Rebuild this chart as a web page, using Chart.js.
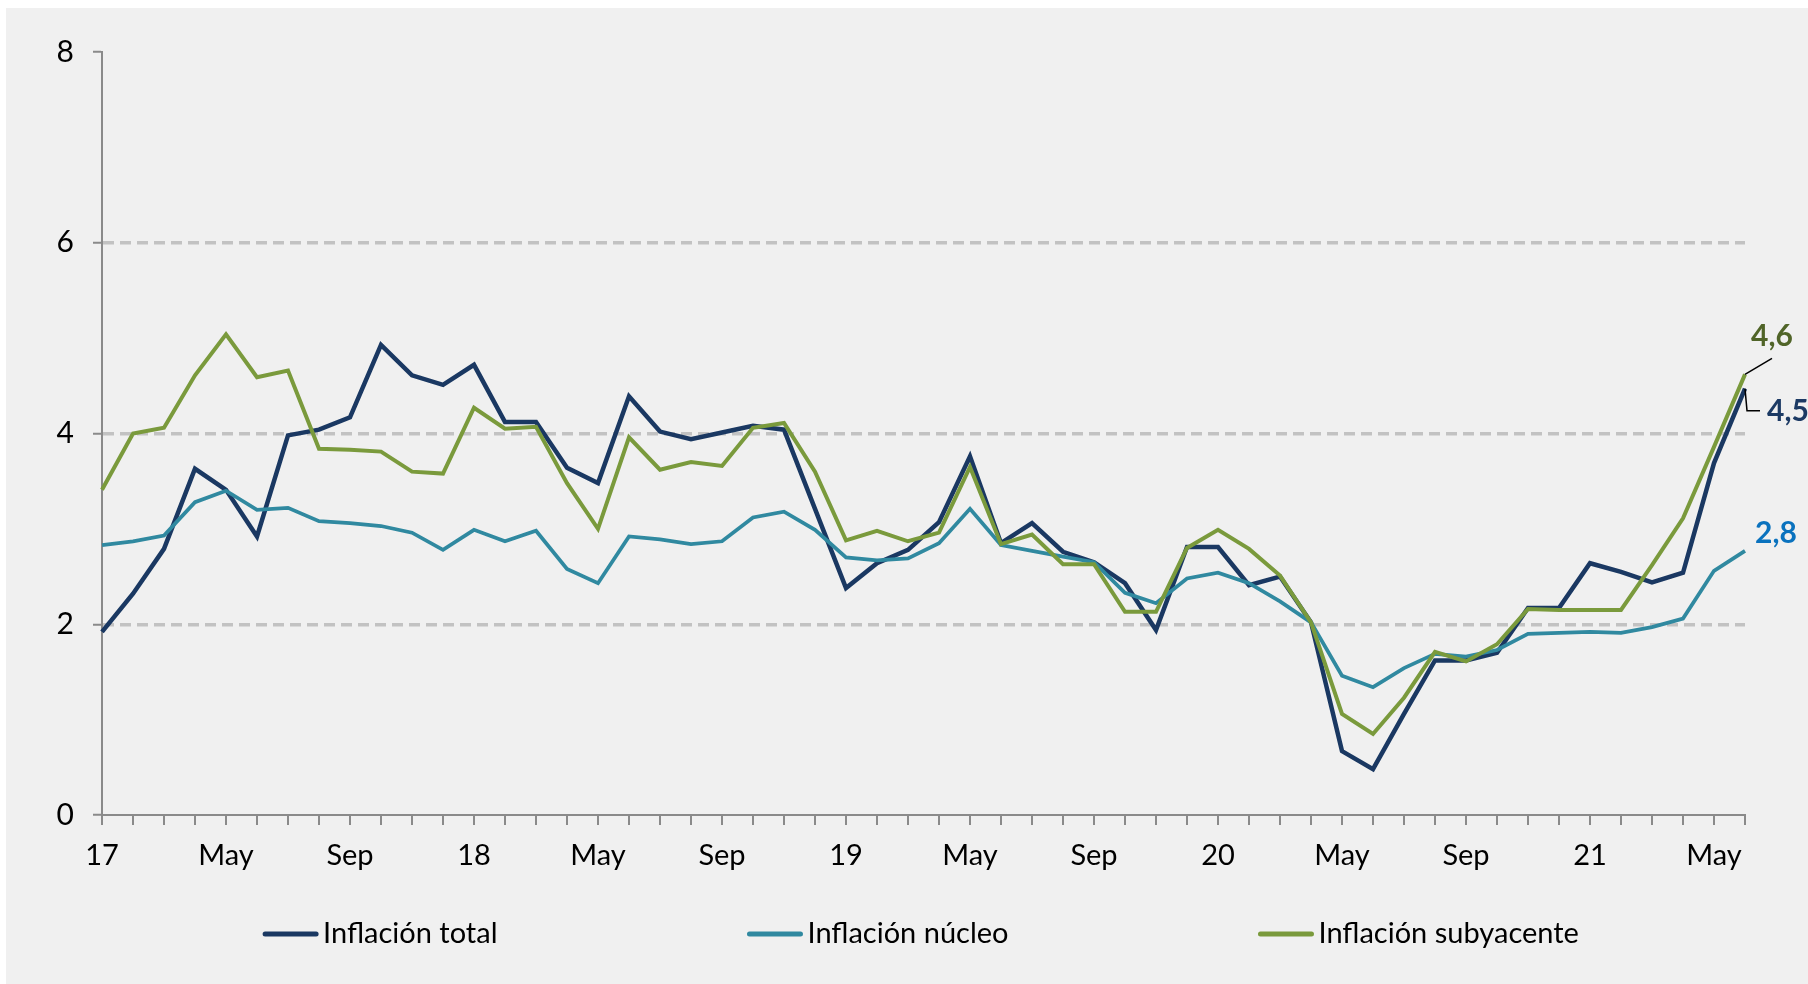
<!DOCTYPE html>
<html lang="es">
<head>
<meta charset="utf-8">
<title>Inflación total, núcleo y subyacente</title>
<script src="https://cdn.jsdelivr.net/npm/chart.js@4.4.1/dist/chart.umd.min.js"></script>
<style>
    html, body { margin: 0; padding: 0; background: #ffffff; }
    #wrap { width: 1808px; height: 984px; }
</style>
</head>
<body>
<div id="wrap"><canvas id="inflacion-chart" width="1808" height="984"></canvas></div>
<script>
// Monthly series, Jan 2017 - Jun 2021 (% a/a).
var years = ['17', '18', '19', '20', '21'];
var monthNames = ['Ene', 'Feb', 'Mar', 'Abr', 'May', 'Jun', 'Jul', 'Ago', 'Sep', 'Oct', 'Nov', 'Dic'];
var yTicks = [0, 2, 4, 6, 8];

var inflacionTotal = [
    1.92, 2.32, 2.79, 3.63, 3.41, 2.92, 3.98, 4.04, 4.17, 4.93, 4.61, 4.51,
    4.72, 4.12, 4.12, 3.64, 3.48, 4.39, 4.02, 3.94, 4.01, 4.08, 4.04, 3.21,
    2.38, 2.64, 2.78, 3.07, 3.76, 2.85, 3.06, 2.76, 2.65, 2.43, 1.94, 2.81,
    2.81, 2.41, 2.50, 2.02, 0.67, 0.48, 1.06, 1.62, 1.62, 1.70, 2.17, 2.17,
    2.64, 2.55, 2.44, 2.54, 3.69, 4.47
];
var inflacionNucleo = [
    2.83, 2.87, 2.93, 3.28, 3.40, 3.20, 3.22, 3.08, 3.06, 3.03, 2.96, 2.78,
    2.99, 2.87, 2.98, 2.58, 2.43, 2.92, 2.89, 2.84, 2.87, 3.12, 3.18, 2.99,
    2.70, 2.67, 2.69, 2.85, 3.21, 2.83, 2.77, 2.71, 2.65, 2.33, 2.22, 2.48,
    2.54, 2.43, 2.24, 2.02, 1.46, 1.34, 1.54, 1.69, 1.66, 1.73, 1.90, 1.91,
    1.92, 1.91, 1.97, 2.06, 2.56, 2.77
];
var inflacionSubyacente = [
    3.41, 4.00, 4.06, 4.61, 5.04, 4.59, 4.66, 3.84, 3.83, 3.81, 3.60, 3.58,
    4.27, 4.05, 4.07, 3.48, 3.00, 3.96, 3.62, 3.70, 3.66, 4.06, 4.11, 3.60,
    2.88, 2.98, 2.87, 2.96, 3.65, 2.84, 2.94, 2.63, 2.63, 2.13, 2.13, 2.80,
    2.99, 2.79, 2.51, 2.02, 1.06, 0.85, 1.23, 1.71, 1.61, 1.79, 2.16, 2.15,
    2.15, 2.15, 2.62, 3.11, 3.86, 4.62
];

// One category per month, "Ene 17" ... "Jun 21".
var categories = [];
years.forEach(function(y) {
    monthNames.forEach(function(m) {
        if (categories.length < inflacionTotal.length) {
            categories.push(m + ' ' + y);
        }
    });
});

var navy = '#1a3862';
var teal = '#3089a0';
var olive = '#7a9a3c';
var axisColor = '#8a8a8a';
var gridColor = '#c2c2c2';
var fontFamily = 'Lato, "Open Sans", sans-serif';

Chart.defaults.font.family = fontFamily;
Chart.defaults.color = '#000';

// Panel background with the thin white strip top/left.
var panelBackground = {
    id: 'panelBackground',
    beforeDraw: function(chart) {
        var ctx = chart.ctx;
        ctx.save();
        ctx.fillStyle = '#ffffff';
        ctx.fillRect(0, 0, chart.width, chart.height);
        ctx.fillStyle = '#f0f0f0';
        ctx.fillRect(6, 8, chart.width - 6, chart.height - 8);
        ctx.restore();
    }
};

// Value callouts next to the last point of each series.
var endLabelStyle = [
    { color: '#1c3a64', dx: 22, dy: 32, leader: [[2, 22], [15, 22]] },
    { color: '#0a72be', dx: 10, dy: -8, leader: null },
    { color: '#506428', dx: 6, dy: -28, leader: [[27, -16]] }
];
var endLabels = {
    id: 'endLabels',
    afterDatasetsDraw: function(chart) {
        var ctx = chart.ctx;
        ctx.save();
        chart.data.datasets.forEach(function(ds, i) {
            var meta = chart.getDatasetMeta(i);
            var last = meta.data.length - 1;
            var pt = meta.data[last];
            var st = endLabelStyle[i];
            if (st.leader) {
                ctx.beginPath();
                ctx.strokeStyle = '#000';
                ctx.lineWidth = 1.5;
                ctx.moveTo(pt.x, pt.y);
                st.leader.forEach(function(p) { ctx.lineTo(pt.x + p[0], pt.y + p[1]); });
                ctx.stroke();
            }
            ctx.fillStyle = st.color;
            ctx.font = 'bold 30px ' + fontFamily;
            ctx.textAlign = 'left';
            ctx.textBaseline = 'alphabetic';
            ctx.fillText(ds.data[last].toFixed(1).replace('.', ','), pt.x + st.dx, pt.y + st.dy);
        });
        ctx.restore();
    }
};

// Legend row under the axis: short line + series name, fixed gap between items.
var lineLegend = {
    id: 'lineLegend',
    afterDraw: function(chart) {
        var ctx = chart.ctx;
        var lineLen = 55, textGap = 5, itemGap = 250, y = 934;
        ctx.save();
        ctx.font = '29px ' + fontFamily;
        var widths = chart.data.datasets.map(function(ds) {
            return lineLen + textGap + ctx.measureText(ds.label).width;
        });
        var total = widths.reduce(function(a, b) { return a + b; }, 0) + itemGap * (widths.length - 1);
        var x = 921 - total / 2;
        chart.data.datasets.forEach(function(ds, i) {
            ctx.beginPath();
            ctx.strokeStyle = ds.borderColor;
            ctx.lineWidth = 5;
            ctx.lineCap = 'round';
            ctx.moveTo(x + 2, y);
            ctx.lineTo(x + lineLen - 2, y);
            ctx.stroke();
            ctx.fillStyle = '#000';
            ctx.textAlign = 'left';
            ctx.textBaseline = 'middle';
            ctx.fillText(ds.label, x + lineLen + textGap, y);
            x += widths[i] + itemGap;
        });
        ctx.restore();
    }
};

new Chart(document.getElementById('inflacion-chart').getContext('2d'), {
    type: 'line',
    data: {
        labels: categories,
        datasets: [{
            label: 'Inflación total',
            data: inflacionTotal,
            borderColor: navy,
            backgroundColor: navy,
            borderWidth: 4.5,
            order: 3
        }, {
            label: 'Inflación núcleo',
            data: inflacionNucleo,
            borderColor: teal,
            backgroundColor: teal,
            borderWidth: 3.75,
            order: 2
        }, {
            label: 'Inflación subyacente',
            data: inflacionSubyacente,
            borderColor: olive,
            backgroundColor: olive,
            borderWidth: 4,
            order: 1
        }]
    },
    options: {
        responsive: false,
        animation: false,
        layout: {
            padding: { top: 52, right: 63, left: 0, bottom: 0 }
        },
        elements: {
            point: { radius: 0, hoverRadius: 0 },
            line: { tension: 0, borderJoinStyle: 'miter', fill: false }
        },
        plugins: {
            legend: { display: false },
            tooltip: { enabled: false }
        },
        scales: {
            x: {
                grid: {
                    drawOnChartArea: false,
                    tickLength: 10,
                    color: axisColor,
                    lineWidth: 2
                },
                border: { color: axisColor, width: 2 },
                ticks: {
                    autoSkip: false,
                    maxRotation: 0,
                    padding: 13,
                    color: '#000',
                    font: { size: 29 },
                    callback: function(value, index) {
                        var m = index % 12;
                        if (m === 0) { return years[Math.floor(index / 12)]; }
                        if (m === 4 || m === 8) { return monthNames[m]; }
                        return '';
                    }
                },
                afterFit: function(scale) { scale.height = 169; }
            },
            y: {
                min: yTicks[0],
                max: yTicks[yTicks.length - 1],
                afterBuildTicks: function(scale) {
                    scale.ticks = yTicks.map(function(v) { return { value: v }; });
                },
                ticks: {
                    padding: 19,
                    color: '#000',
                    font: { size: 30 }
                },
                grid: {
                    color: function(ctx) {
                        var v = ctx.tick && ctx.tick.value;
                        return (v === yTicks[0] || v === yTicks[yTicks.length - 1]) ? 'transparent' : gridColor;
                    },
                    lineWidth: 3.5,
                    tickLength: 9,
                    tickColor: axisColor,
                    tickWidth: 2
                },
                border: { color: axisColor, width: 2, dash: [11, 6] },
                afterFit: function(scale) { scale.width = 102; }
            }
        }
    },
    plugins: [panelBackground, endLabels, lineLegend]
});
</script>
</body>
</html>
